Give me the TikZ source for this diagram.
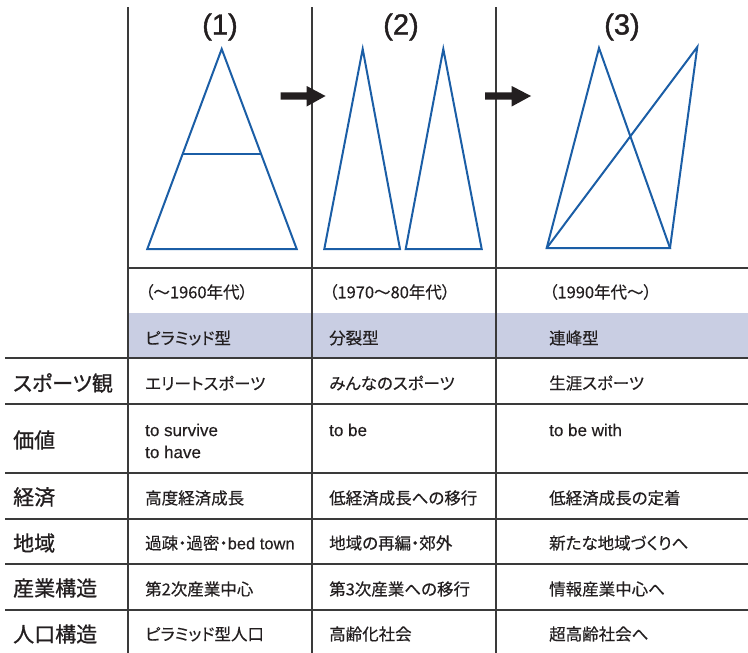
\documentclass[tikz,border=0pt]{standalone}
\usepackage{fontspec}
\setmainfont{Noto Sans CJK JP}
\newfontfamily\cjk[RawFeature=+palt,FakeBold=0.35]{Noto Sans CJK JP}
\newfontfamily\cjklab[RawFeature=+palt,FakeBold=0.9]{Noto Sans CJK JP}
\newfontfamily\lat[FakeBold=0.35]{Liberation Sans}
\newfontfamily\latt[FakeBold=1.3]{Liberation Sans}
\definecolor{tri}{HTML}{1B5EA6}
\definecolor{band}{HTML}{C9CEE3}
\definecolor{rule}{HTML}{3A3A3A}
\definecolor{ink}{HTML}{231F20}
\begin{document}
\begin{tikzpicture}[x=1pt,y=-1pt,
  tabline/.style={draw=rule,line width=1.4pt},
  triline/.style={draw=tri,line width=2pt,line join=miter},
  cell/.style={anchor=west,inner sep=0pt,text=ink,font=\cjk\fontsize{16.5}{19}\selectfont},
  latcell/.style={anchor=west,inner sep=0pt,text=ink,font=\lat\fontsize{17}{19}\selectfont},
  rowlab/.style={anchor=west,inner sep=0pt,text=ink,font=\cjklab\fontsize{21}{24}\selectfont},
  ttl/.style={anchor=center,inner sep=0pt,text=ink,font=\latt\fontsize{29}{32}\selectfont},
  bigarrow/.style={draw=none,fill=ink}]
\useasboundingbox (0,0) rectangle (748,653);
% band
\fill[band] (128,313) rectangle (748,358);
% vertical lines
\draw[tabline] (128,7) -- (128,653);
\draw[tabline] (312,7) -- (312,653);
\draw[tabline] (496,7) -- (496,653);
% horizontal lines
\draw[tabline] (128,268) -- (748,268);
\foreach \yy in {358,404,473,519,564,610}
  \draw[tabline] (5,\yy) -- (748,\yy);
% titles
\node[ttl] (t1) at (220,27) {(1)};
\node[ttl] (t2) at (401,27) {(2)};
\node[ttl] (t3) at (622,27) {(3)};
% triangles
\draw[triline] (221.7,49) -- (296.7,249) -- (147.3,249) -- cycle;
\draw[triline] (182.7,154) -- (260.5,154);
\draw[triline] (362.7,49) -- (400,249) -- (324.3,249) -- cycle;
\draw[triline] (443.3,49) -- (481.7,249) -- (405.7,249) -- cycle;
\draw[triline] (599,48) -- (670,248) -- (546.7,248) -- cycle;
\draw[triline] (546.7,248) -- (697.3,47) -- (670,248);
\draw[draw=tri,line width=2.6pt] (546.7,248) -- (670,248);
% arrows
\fill[bigarrow] (280.7,92.3) -- (306.7,92.3) -- (306.7,86) -- (325.5,96) -- (306.7,106.5) -- (306.7,99.7) -- (280.7,99.7) -- cycle;
\fill[bigarrow] (485,92.3) -- (511.7,92.3) -- (511.7,86) -- (531,96) -- (511.7,106.5) -- (511.7,99.7) -- (485,99.7) -- cycle;
% header rows
\node[cell] (h11) at (145,292) {（～1960年代）};
\node[cell] (h12) at (329,292) {（1970～80年代）};
\node[cell] (h13) at (549,292) {（1990年代～）};
\node[cell] (h21) at (145,338) {ピラミッド型};
\node[cell] (h22) at (329,338) {分裂型};
\node[cell] (h23) at (549,338) {連峰型};
% row labels
\node[rowlab] (l1) at (13,383) {スポーツ観};
\node[rowlab] (l2) at (13,440) {価値};
\node[rowlab] (l3) at (13,497) {経済};
\node[rowlab] (l4) at (13,543) {地域};
\node[rowlab] (l5) at (13,588) {産業構造};
\node[rowlab] (l6) at (13,634) {人口構造};
% cells
\node[cell] (c11) at (145,383) {エリートスポーツ};
\node[cell] (c12) at (329,383) {みんなのスポーツ};
\node[cell] (c13) at (549,383) {生涯スポーツ};
\node[latcell] (c21) at (145,430) {to survive};
\node[latcell] (c21b) at (145,452) {to have};
\node[latcell] (c22) at (329,430) {to be};
\node[latcell] (c23) at (549,430) {to be with};
\node[cell] (c31) at (145,498) {高度経済成長};
\node[cell] (c32) at (329,498) {低経済成長への移行};
\node[cell] (c33) at (549,498) {低経済成長の定着};
\node[cell] (c41) at (145,543) {過疎・過密・{\lat bed town}};
\node[cell] (c42) at (329,543) {地域の再編・郊外};
\node[cell] (c43) at (549,543) {新たな地域づくりへ};
\node[cell] (c51) at (145,589) {第2次産業中心};
\node[cell] (c52) at (329,589) {第3次産業への移行};
\node[cell] (c53) at (549,589) {情報産業中心へ};
\node[cell] (c61) at (145,634) {ピラミッド型人口};
\node[cell] (c62) at (329,634) {高齢化社会};
\node[cell] (c63) at (549,634) {超高齢社会へ};
\end{tikzpicture}
\end{document}
